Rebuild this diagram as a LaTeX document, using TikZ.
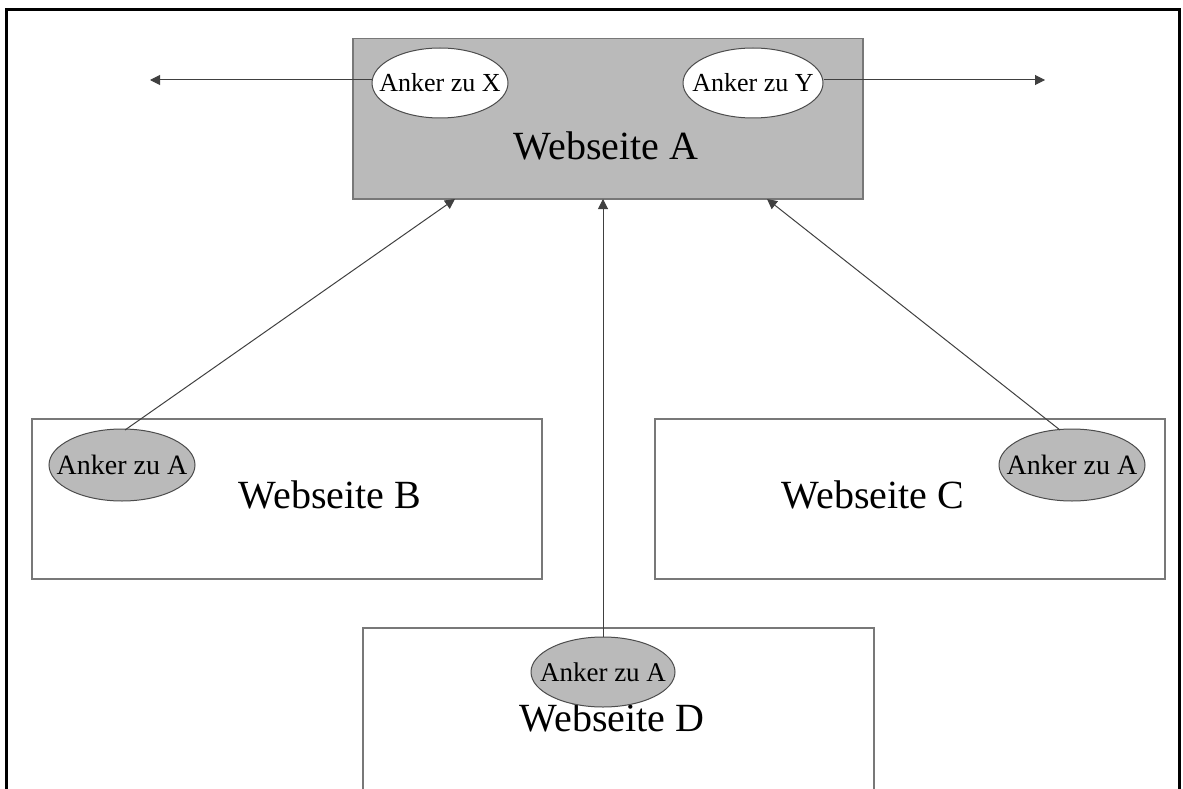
\documentclass[tikz,border=0pt]{standalone}
\usepackage{fontspec}
\setmainfont{Liberation Serif}
\usetikzlibrary{shapes.geometric,arrows.meta}
\definecolor{hatch}{RGB}{186,186,186}
\definecolor{edgegray}{RGB}{120,120,120}
\newcommand{\fixw}[1]{\makebox[0pt][c]{#1}}
\tikzset{
  pagebox/.style={draw=edgegray,line width=1.5pt,fill=white,inner sep=0pt},
  anchorell/.style={ellipse,draw=black!70,line width=1pt,inner sep=0pt,font=\fontsize{26}{28}\selectfont},
  pagelabel/.style={font=\fontsize{40}{44}\selectfont,inner sep=0pt},
  link/.style={draw=black!75,line width=1pt,-{Triangle[length=10pt,width=10pt]}}
}
\begin{document}
\begin{tikzpicture}[x=1pt,y=-1pt]
\useasboundingbox (0,0) rectangle (1183,789);
% outer frame (open at bottom)
\draw[line width=3pt] (6,789) -- (6,10) -- (1179,10) -- (1179,789);
% Webseite A
\node[pagebox,fill=hatch,minimum width=510pt,minimum height=160pt,anchor=north west] (A) at (352,38) {};
\node[pagelabel] (tA) at (606,146) {Webseite A};
\node[anchorell,fill=white,minimum width=136pt,minimum height=70pt] (ax) at (440,83) {\fixw{Anker zu X}};
\node[anchorell,fill=white,minimum width=140pt,minimum height=70pt] (ay) at (753,83) {\fixw{Anker zu Y}};
\coordinate (xend) at (150,80);
\coordinate (yend) at (1045,80);
\draw[link] (ax.west |- 0,80) -- (xend);
\draw[link] (ay.east |- 0,80) -- (yend);
% Webseite B
\node[pagebox,minimum width=510pt,minimum height=160pt,anchor=north west] (B) at (31,418) {};
\node[pagelabel] (tB) at (330,495) {Webseite B};
\node[anchorell,fill=hatch,minimum width=146pt,minimum height=72pt,font=\fontsize{28}{30}\selectfont] (eb) at (122,465) {\fixw{Anker zu A}};
% Webseite C
\node[pagebox,minimum width=510pt,minimum height=160pt,anchor=north west] (C) at (654,418) {};
\node[pagelabel] (tC) at (873,495) {Webseite C};
\node[anchorell,fill=hatch,minimum width=146pt,minimum height=72pt,font=\fontsize{28}{30}\selectfont] (ec) at (1072,465) {\fixw{Anker zu A}};
% Webseite D
\node[pagebox,minimum width=511pt,minimum height=162pt,anchor=north west] (D) at (362,627) {};
\node[pagelabel] (tD) at (612,718) {Webseite D};
\node[anchorell,fill=hatch,minimum width=144pt,minimum height=70pt,font=\fontsize{27}{30}\selectfont] (ed) at (603,672) {\fixw{Anker zu A}};
% links to A
\coordinate (ab) at (455,199);
\coordinate (ad) at (603,199);
\coordinate (ac) at (767,199);
\draw[link] (125,430) -- (ab);
\draw[link] (ed.north) -- (ad);
\draw[link] (1060,430) -- (ac);
\end{tikzpicture}
\end{document}
